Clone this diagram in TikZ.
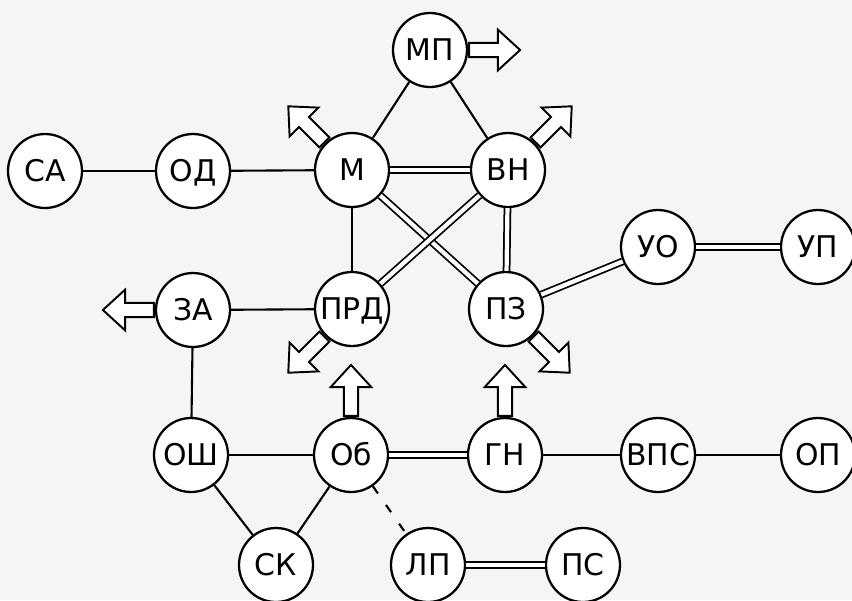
\documentclass[tikz,border=0pt]{standalone}
\usepackage{fontspec}
\setmainfont{DejaVu Sans}
\usetikzlibrary{shapes.arrows}

\begin{document}
\begin{tikzpicture}[
    x=0.02cm, y=-0.02cm,
    blok/.style={circle, draw, line width=1.3pt, fill=white, minimum size=1.48cm, inner sep=0pt, text height=12.4pt, text depth=0pt, font=\fontsize{17}{18}\selectfont},
    link/.style={line width=1.2pt},
    dlink/.style={double, double distance=2.4pt, line width=1pt},
    vyhod/.style={single arrow, draw, fill=white, line width=1.1pt, inner xsep=0pt, inner ysep=3.5pt, minimum height=1.02cm, single arrow head extend=7.5pt, single arrow tip angle=85, anchor=tail}
]

\useasboundingbox (0,0) rectangle (852,600);
\fill[black!4] (0,0) rectangle (852,600);

% Upper part
\node[blok] (mp) at (430,50) {МП};
\node[blok] (m) at (352,170) {М};
\node[blok] (vn) at (508,170) {ВН};
\node[blok] (sa) at (45,171) {СА};
\node[blok] (od) at (193,171) {ОД};

% Middle part
\node[blok] (za) at (193,310) {ЗА};
\node[blok] (prd) at (352,309) {ПРД};
\node[blok] (pz) at (506,309) {ПЗ};
\node[blok] (uo) at (658,247) {УО};
\node[blok] (up) at (818,247) {УП};

% Lower part
\node[blok] (osh) at (191,455) {ОШ};
\node[blok] (ob) at (351,455) {Об};
\node[blok] (gn) at (505,455) {ГН};
\node[blok] (vps) at (658,455) {ВПС};
\node[blok] (op) at (818,455) {ОП};
\node[blok] (sk) at (276,565) {СК};
\node[blok] (lp) at (428,565) {ЛП};
\node[blok] (ps) at (583,565) {ПС};

% Single links
\draw[link] (sa) -- (od);
\draw[link] (od) -- (m);
\draw[link] (m) -- (mp);
\draw[link] (mp) -- (vn);
\draw[link] (m) -- (prd);
\draw[link] (za) -- (prd);
\draw[link] (za) -- (osh);
\draw[link] (osh) -- (ob);
\draw[link] (osh) -- (sk);
\draw[link] (ob) -- (sk);
\draw[link] (gn) -- (vps);
\draw[link] (vps) -- (op);
\draw[link, dash pattern=on 5pt off 8pt] (ob) -- (lp);

% Double links
\draw[dlink] (m) -- (vn);
\draw[dlink] (m) -- (pz);
\draw[dlink] (vn) -- (prd);
\draw[dlink] (vn) -- (pz);
\draw[dlink] (pz) -- (uo);
\draw[dlink] (uo) -- (up);
\draw[dlink] (ob) -- (gn);
\draw[dlink] (lp) -- (ps);

% Outputs
\node[vyhod, rotate=0] (mpout) at (mp.east) {};
\node[vyhod, rotate=135] (mout) at (m.135) {};
\node[vyhod, rotate=45] (vnout) at (vn.45) {};
\node[vyhod, rotate=180] (zaout) at (za.west) {};
\node[vyhod, rotate=225] (prdout) at (prd.225) {};
\node[vyhod, rotate=-45] (pzout) at (pz.-45) {};
\node[vyhod, rotate=90] (obout) at (ob.north) {};
\node[vyhod, rotate=90] (gnout) at (gn.north) {};

\end{tikzpicture}
\end{document}
